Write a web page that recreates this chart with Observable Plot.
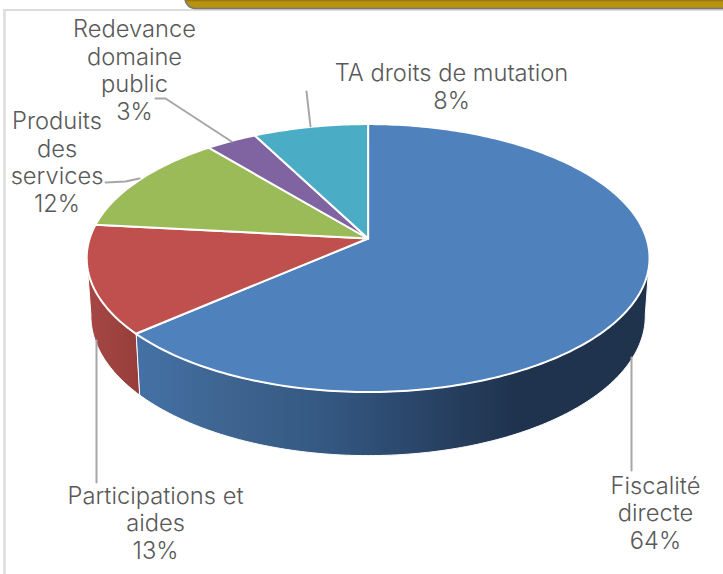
<!DOCTYPE html>
<html lang="fr">
<head>
<meta charset="utf-8">
<script src="https://cdn.jsdelivr.net/npm/d3@7"></script>
<script src="https://cdn.jsdelivr.net/npm/@observablehq/plot@0.6"></script>
<style>
html,body{margin:0;padding:0;background:#fff;overflow:hidden}
svg{display:block}
</style>
</head>
<body>
<div id="chart"></div>
<script>
// Data
const categories = ["Fiscalité directe", "Participations et aides", "Produits des services", "Redevance domaine public", "TA droits de mutation"];
const values = [63.6, 13.1, 12.3, 3.4, 7.6];
const labelLines = [["Fiscalité", "directe"], ["Participations et", "aides"], ["Produits", "des", "services"], ["Redevance", "domaine", "public"], ["TA droits de mutation"]];
const topColors = ["#4f81bd", "#c0504d", "#9bbb59", "#8064a2", "#4bacc6"];

// Layout: perspective of the pie and placement of the annotations
const cx = 367.6, cy = 238, R = 278.4, S = 131.1, k = 0.146;
const wallScaleX = 0.985, wallScaleY = 1.043, wallDrop = 57;
const labelX = [655, 155, 56.5, 134, 451];
const labelY = [512, 522, 161, 69, 85.5];
const leaders = [
  [[631, 470], [631, 357]],
  [[96, 482], [96, 340]],
  [[105, 182], [125, 181], [139, 178]],
  [[155, 98], [165, 98], [231, 141]],
  [[306, 91], [310, 126]]
];

const deg = Math.PI / 180;
function rim(theta) {
  const u = Math.sin(theta), v = -Math.cos(theta), d = 1 - k * v;
  return {x: cx + R * u / d, y: cy + S * v / d};
}
function floor(theta) {
  const p = rim(theta);
  return {x: cx + (p.x - cx) * wallScaleX, y: cy + (p.y - cy) * wallScaleY + wallDrop};
}
function arcAngles(a0, a1) {
  const n = Math.max(2, Math.ceil(Math.abs(a1 - a0) / deg));
  return d3.range(n + 1).map(i => a0 + (a1 - a0) * i / n);
}

const arcs = d3.pie().sort(null).value(d => d)(values);

const tops = arcs.flatMap((a, i) => [
  {name: categories[i], fill: topColors[i], x: cx, y: cy},
  ...arcAngles(a.startAngle, a.endAngle).map(t => ({name: categories[i], fill: topColors[i], ...rim(t)}))
]);

const frontStart = 98 * deg, frontEnd = 262 * deg;
function wall(a) {
  const a0 = Math.max(a.startAngle, frontStart), a1 = Math.min(a.endAngle, frontEnd);
  const ts = arcAngles(a0, a1);
  return [...ts.map(rim), ...ts.slice().reverse().map(floor)];
}
const blueWall = wall(arcs[0]);
const redWall = wall(arcs[1]);

const labels = categories.map((c, i) => ({
  text: [...labelLines[i], `${Math.round(values[i])}%`].join("\n"),
  x: labelX[i], y: labelY[i]
}));
const leaderPts = leaders.flatMap((pts, i) => pts.map(([x, y]) => ({x, y, name: categories[i]})));

const plot = Plot.plot({
  width: 723, height: 574,
  marginTop: 0, marginRight: 0, marginBottom: 0, marginLeft: 0,
  x: {type: "identity", axis: null},
  y: {type: "identity", axis: null},
  style: {background: "#fff"},
  marks: [
    Plot.ruleY([9.5], {x1: 3, x2: 723, stroke: "#dcdcdc", strokeWidth: 2}),
    Plot.ruleX([4], {y1: 9, y2: 574, stroke: "#dcdcdc", strokeWidth: 2.5}),
    Plot.rect([{x1: 185, x2: 780, y1: -14, y2: 8.5}], {x1: "x1", x2: "x2", y1: "y1", y2: "y2", fill: "url(#barGrad)", stroke: "#777", strokeWidth: 1.5, rx: 10}),
    Plot.line(blueWall, {x: "x", y: "y", curve: "linear-closed", fill: "url(#blueWallGrad)", stroke: "#fff", strokeWidth: 1}),
    Plot.line(redWall, {x: "x", y: "y", curve: "linear-closed", fill: "url(#redWallGrad)", stroke: "#fff", strokeWidth: 1}),
    Plot.line(tops, {x: "x", y: "y", z: "name", fill: "fill", curve: "linear-closed", stroke: "#fff", strokeWidth: 2, strokeLinejoin: "round"}),
    Plot.line(leaderPts, {x: "x", y: "y", z: "name", stroke: "#a6a6a6", strokeWidth: 2, curve: "linear"}),
    Plot.text(labels, {x: "x", y: "y", text: "text", fill: "#595959", fontSize: 23.7, fontWeight: 300, fontFamily: "Inter", lineHeight: 1.17, textAnchor: "middle", lineAnchor: "middle"})
  ]
});

const defs = d3.select(plot).insert("defs", ":first-child");
function grad(id, attrs, stops) {
  const g = defs.append("linearGradient").attr("id", id).attr("gradientUnits", "userSpaceOnUse");
  Object.entries(attrs).forEach(([a, v]) => g.attr(a, v));
  stops.forEach(([o, c]) => g.append("stop").attr("offset", o).attr("stop-color", c));
}
grad("blueWallGrad", {x1: 136, x2: 650, y1: 0, y2: 0}, [[0, "#4471a6"], [0.18, "#3e648f"], [0.38, "#335781"], [0.55, "#2a4568"], [0.74, "#1f334e"], [1, "#1f334d"]]);
grad("redWallGrad", {x1: 88, x2: 140, y1: 0, y2: 0}, [[0, "#a64744"], [1, "#953e3b"]]);
grad("barGrad", {x1: 0, x2: 0, y1: 0, y2: 8}, [[0, "#8f720c"], [0.25, "#b8910f"], [1, "#b8910f"]]);

document.getElementById("chart").append(plot);
</script>
</body>
</html>
